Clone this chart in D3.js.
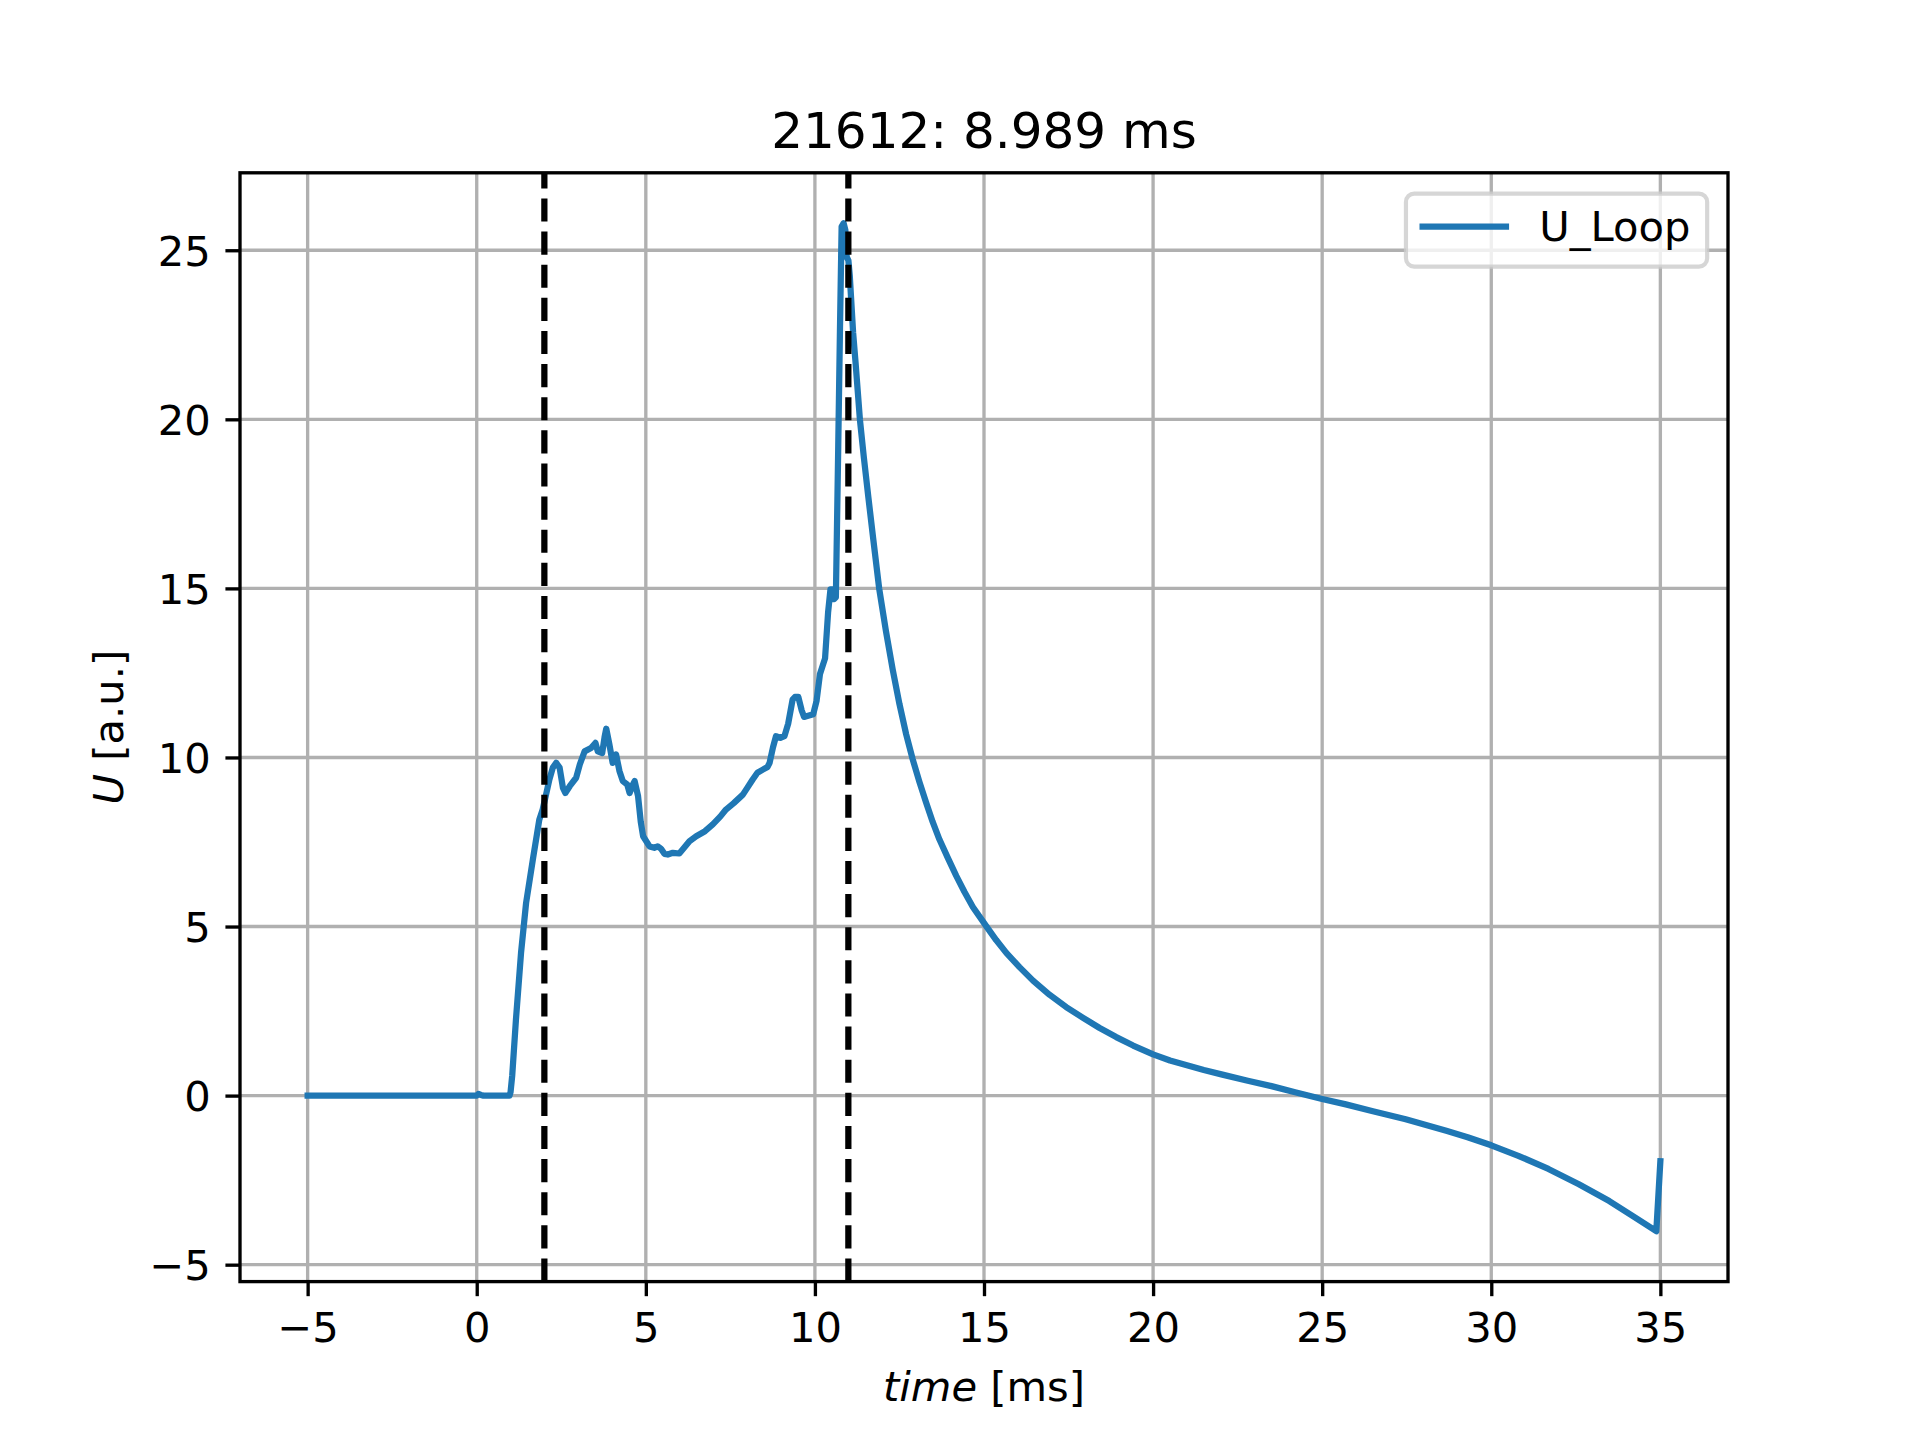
<!DOCTYPE html>
<html>
<head>
<meta charset="utf-8">
<script src="https://cdn.jsdelivr.net/npm/d3@7"></script>
<style>
  body { margin: 0; background: #ffffff; }
  svg { display: block; font-family: "DejaVu Sans", sans-serif; }
</style>
</head>
<body>
<svg id="chart" width="1920" height="1440"></svg>
<script>
const TITLE = "21612: 8.989 ms";
const SERIES_NAME = "U_Loop";

// time axis [ms]
const TIME = [
    -5, 0, 0.05, 0.12, 0.2, 0.97, 1.0, 1.05, 1.16, 1.31, 1.46, 1.66, 1.85, 1.95,
    2.05, 2.15, 2.25, 2.35, 2.45, 2.55, 2.62, 2.75, 2.94, 3.05, 3.19, 3.38, 3.51,
    3.58, 3.71, 3.78, 3.83, 3.92, 4.02, 4.12, 4.22, 4.32, 4.45, 4.52, 4.62, 4.67,
    4.77, 4.85, 4.92, 5.11, 5.25, 5.35, 5.45, 5.55, 5.65, 5.8, 5.99, 6.15, 6.29,
    6.49, 6.75, 6.98, 7.2, 7.37, 7.6, 7.87, 8.0, 8.16, 8.3, 8.46, 8.6, 8.66, 8.76,
    8.85, 8.98, 9.1, 9.21, 9.34, 9.41, 9.51, 9.61, 9.68, 9.75, 9.95, 10.05, 10.15,
    10.3, 10.39, 10.46, 10.52, 10.56, 10.62, 10.69, 10.74, 10.79, 10.85, 10.9,
    10.94, 10.99, 11.03, 11.13, 11.2, 11.33, 11.45, 11.58, 11.72, 11.9,
    12.1, 12.3, 12.5, 12.7, 12.89, 13.09, 13.29, 13.48, 13.68, 13.93,
    14.18, 14.42, 14.67, 15.06, 15.36, 15.66, 16.05, 16.45, 16.94, 17.43, 17.93,
    18.42, 18.91, 19.41, 20.0, 20.5, 21.0, 21.5, 22.05, 22.8, 23.5, 24.2, 25.0,
    25.7, 26.5, 27.47, 28.67, 29.3, 30.0, 30.8, 31.69, 32.59, 33.49, 34.2, 34.88, 35.0
];

// loop voltage [a.u.]
const U_LOOP = [
    0, 0, 0.05, 0.02, 0, 0, 0.1, 0.6, 2.25, 4.22, 5.7, 6.98, 8.16, 8.46,
    8.9, 9.35, 9.7, 9.84, 9.7, 9.1, 8.95, 9.15, 9.4, 9.8, 10.18, 10.28, 10.43,
    10.18, 10.13, 10.6, 10.85, 10.4, 9.84, 10.09, 9.6, 9.3, 9.2, 8.95, 9.2, 9.3,
    8.86, 8.1, 7.67, 7.37, 7.33, 7.37, 7.3, 7.15, 7.13, 7.18, 7.16, 7.35, 7.52,
    7.67, 7.82, 8.02, 8.25, 8.46, 8.65, 8.9, 9.1, 9.35, 9.55, 9.64, 9.72, 9.84, 10.3,
    10.63, 10.58, 10.63, 11.0, 11.71, 11.79, 11.79, 11.39, 11.2, 11.22, 11.28, 11.68, 12.47,
    12.93, 14.29, 14.97, 14.97, 14.68, 14.74, 19.2, 22.6, 25.7, 25.8, 25.6,
    24.8, 24.7, 24.26, 22.56, 21.7, 20.0, 18.85, 17.7, 16.5, 15.0,
    13.74, 12.6, 11.58, 10.68, 9.95, 9.28, 8.66, 8.1, 7.58, 7.03,
    6.5, 6.03, 5.58, 5.02, 4.6, 4.22, 3.8, 3.4, 2.98, 2.62, 2.3,
    2.0, 1.73, 1.48, 1.22, 1.04, 0.9, 0.76, 0.62, 0.44, 0.28, 0.1, -0.1,
    -0.26, -0.46, -0.7, -1.04, -1.23, -1.47, -1.78, -2.17, -2.62, -3.12, -3.57, -4.01, -1.94
];

// vertical markers [ms]
const MARKERS = [2.0, 10.989];

const X_TICKS = [-5, 0, 5, 10, 15, 20, 25, 30, 35];
const Y_TICKS = [-5, 0, 5, 10, 15, 20, 25];

// 6.4 x 4.8 in at 300 dpi, 1pt = 300/72 px
const PT = 300 / 72;
const FS = 10 * PT;
const W = 1920, H = 1440;
const plot = { left: 0.125 * W, right: 0.9 * W, top: 0.12 * H, bottom: 0.89 * H };

const padDomain = (ext) => {
    let m = (ext[1] - ext[0]) * 0.05;
    return [ext[0] - m, ext[1] + m];
};

const svg = d3.select("#chart");

const x = d3.scaleLinear()
    .domain(padDomain(d3.extent(TIME)))
    .range([plot.left, plot.right]);
const y = d3.scaleLinear()
    .domain(padDomain(d3.extent(U_LOOP)))
    .range([plot.bottom, plot.top]);

// grid
let grid = svg.append("g")
    .attr("stroke", "#b0b0b0")
    .attr("stroke-width", 0.8 * PT);
grid.selectAll("line.vx")
    .data(X_TICKS)
    .enter()
    .append("line")
    .attr("class", "vx")
    .attr("x1", d => x(d)).attr("x2", d => x(d))
    .attr("y1", plot.top).attr("y2", plot.bottom);
grid.selectAll("line.hy")
    .data(Y_TICKS)
    .enter()
    .append("line")
    .attr("class", "hy")
    .attr("y1", d => y(d)).attr("y2", d => y(d))
    .attr("x1", plot.left).attr("x2", plot.right);

svg.append("clipPath")
    .attr("id", "plot-clip")
    .append("rect")
    .attr("x", plot.left).attr("y", plot.top)
    .attr("width", plot.right - plot.left)
    .attr("height", plot.bottom - plot.top);

// signal
let line = d3.line()
    .x((d, i) => x(TIME[i]))
    .y(d => y(d));
svg.append("path")
    .datum(U_LOOP)
    .attr("clip-path", "url(#plot-clip)")
    .attr("fill", "none")
    .attr("stroke", "#1f77b4")
    .attr("stroke-width", 1.5 * PT)
    .attr("stroke-linejoin", "round")
    .attr("stroke-linecap", "square")
    .attr("d", line);

// dashed markers
svg.selectAll("line.marker")
    .data(MARKERS)
    .enter()
    .append("line")
    .attr("class", "marker")
    .attr("x1", d => x(d)).attr("x2", d => x(d))
    .attr("y1", plot.bottom).attr("y2", plot.top)
    .attr("stroke", "#000")
    .attr("stroke-width", 1.5 * PT)
    .attr("stroke-dasharray", `${5.55 * PT} ${2.4 * PT}`);

// axes
const styleAxis = (g) => {
    g.select(".domain").remove();
    g.selectAll(".tick line").attr("stroke", "#000").attr("stroke-width", 0.8 * PT);
    g.selectAll(".tick text")
        .attr("fill", "#000")
        .attr("font-size", FS)
        .attr("font-family", "DejaVu Sans");
};

svg.append("g")
    .attr("transform", `translate(0, ${plot.bottom})`)
    .call(d3.axisBottom(x).tickValues(X_TICKS).tickSize(3.5 * PT).tickPadding(3.5 * PT))
    .call(styleAxis)
    .call(g => g.selectAll(".tick text").attr("dy", "0.75em"));

svg.append("g")
    .attr("transform", `translate(${plot.left}, 0)`)
    .call(d3.axisLeft(y).tickValues(Y_TICKS).tickSize(3.5 * PT).tickPadding(3.5 * PT))
    .call(styleAxis)
    .call(g => g.selectAll(".tick text").attr("dy", "0.36em"));

// spines
svg.append("rect")
    .attr("x", plot.left).attr("y", plot.top)
    .attr("width", plot.right - plot.left)
    .attr("height", plot.bottom - plot.top)
    .attr("fill", "none")
    .attr("stroke", "#000")
    .attr("stroke-width", 0.8 * PT);

// title and labels
const midX = (plot.left + plot.right) / 2;
svg.append("text")
    .attr("x", midX)
    .attr("y", plot.top - 6 * PT)
    .attr("text-anchor", "middle")
    .attr("font-size", 12 * PT)
    .text(TITLE);

let xLabel = svg.append("text")
    .attr("x", midX)
    .attr("y", 1400.5)
    .attr("text-anchor", "middle")
    .attr("font-size", FS);
xLabel.append("tspan").attr("font-style", "italic").text("time");
xLabel.append("tspan").text(" [ms]");

let yLabel = svg.append("text")
    .attr("transform", `translate(123, ${(plot.top + plot.bottom) / 2}) rotate(-90)`)
    .attr("text-anchor", "middle")
    .attr("font-size", FS);
yLabel.append("tspan").attr("font-style", "italic").text("U");
yLabel.append("tspan").text(" [a.u.]");

// legend
let legend = svg.append("g");
let legendBox = legend.append("rect");
let legendText = legend.append("text")
    .attr("font-size", FS)
    .text(SERIES_NAME);
let textW = legendText.node().getComputedTextLength();
let boxW = 0.4 * FS + 2 * FS + 0.8 * FS + textW + 0.4 * FS;
let boxH = 73;
let boxX = plot.right - 0.5 * FS - boxW;
let boxY = plot.top + 0.5 * FS;
legendBox
    .attr("x", boxX).attr("y", boxY)
    .attr("width", boxW).attr("height", boxH)
    .attr("rx", 0.2 * FS)
    .attr("fill", "#fff").attr("fill-opacity", 0.8)
    .attr("stroke", "#cccccc").attr("stroke-opacity", 0.8)
    .attr("stroke-width", 1.0 * PT);
legend.append("line")
    .attr("x1", boxX + 0.4 * FS).attr("x2", boxX + 2.4 * FS)
    .attr("y1", boxY + 33).attr("y2", boxY + 33)
    .attr("stroke", "#1f77b4")
    .attr("stroke-width", 1.5 * PT)
    .attr("stroke-linecap", "square");
legendText
    .attr("x", boxX + 3.2 * FS)
    .attr("y", boxY + 47.5);
</script>
</body>
</html>
